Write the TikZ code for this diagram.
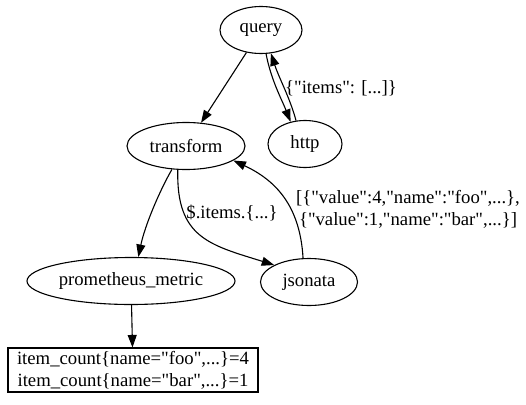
\documentclass[tikz,border=0pt]{standalone}
\usepackage{fontspec}
\setmainfont{Liberation Serif}
\newfontfamily\qfont{Liberation Serif}
\usetikzlibrary{shapes.geometric,arrows.meta}
\newcommand\qq{{\qfont\char34}}
\begin{document}
\begin{tikzpicture}[x=1pt,y=-1pt,
  every node/.style={font=\fontsize{18.7}{22}\selectfont},
  ell/.style={ellipse,draw,line width=1.1pt,inner sep=0pt,minimum height=47pt},
  rectbox/.style={rectangle,draw,line width=1.1pt,inner sep=0pt,align=center},
  lbl/.style={inner sep=0pt,align=center},
  edge/.style={line width=1.1pt,-{Triangle[length=12.5pt,width=9pt]}}]
\useasboundingbox (0,0) rectangle (526,404);
\node[ell,minimum width=82pt] (query) at (261,30) {query};
\node[ell,minimum width=74pt] (http) at (305,144) {http};
\node[ell,minimum width=118pt] (transform) at (186,146) {transform};
\node[ell,minimum width=208pt] (prom) at (131,281) {prometheus\_metric};
\node[ell,minimum width=97pt] (jsonata) at (309,282) {jsonata};
\node[rectbox,minimum width=250pt,minimum height=44pt] (out) at (133,370) {item\_count\{name=\qq foo\qq,...\}=4\\item\_count\{name=\qq bar\qq,...\}=1};

\draw[edge] (query) -- (transform);
\draw[edge] (query.282) .. controls (271,80) and (282,100) .. (http.123);
\draw[edge] (http.111) .. controls (290,98) and (279,78) .. (query.293);
\node[lbl] (l1) at (341,88) {\{\qq items\qq: [...]\}};

\draw[edge] (transform.239) .. controls (160,190) and (145,225) .. (prom.73);
\draw[edge] (transform.251) .. controls (176,238) and (210,245) .. (jsonata.154);
\node[lbl] (l2) at (232,213) {\$.items.\{...\}};
\draw[edge] (jsonata.104) .. controls (300,205) and (275,180) .. (transform.343);
\node[lbl] (l3) at (408,209) {[\{\qq value\qq:4,\qq name\qq:\qq foo\qq,...\},\\\{\qq value\qq:1,\qq name\qq:\qq bar\qq,...\}]};

\draw[edge] (prom) -- (out);
\end{tikzpicture}
\end{document}
